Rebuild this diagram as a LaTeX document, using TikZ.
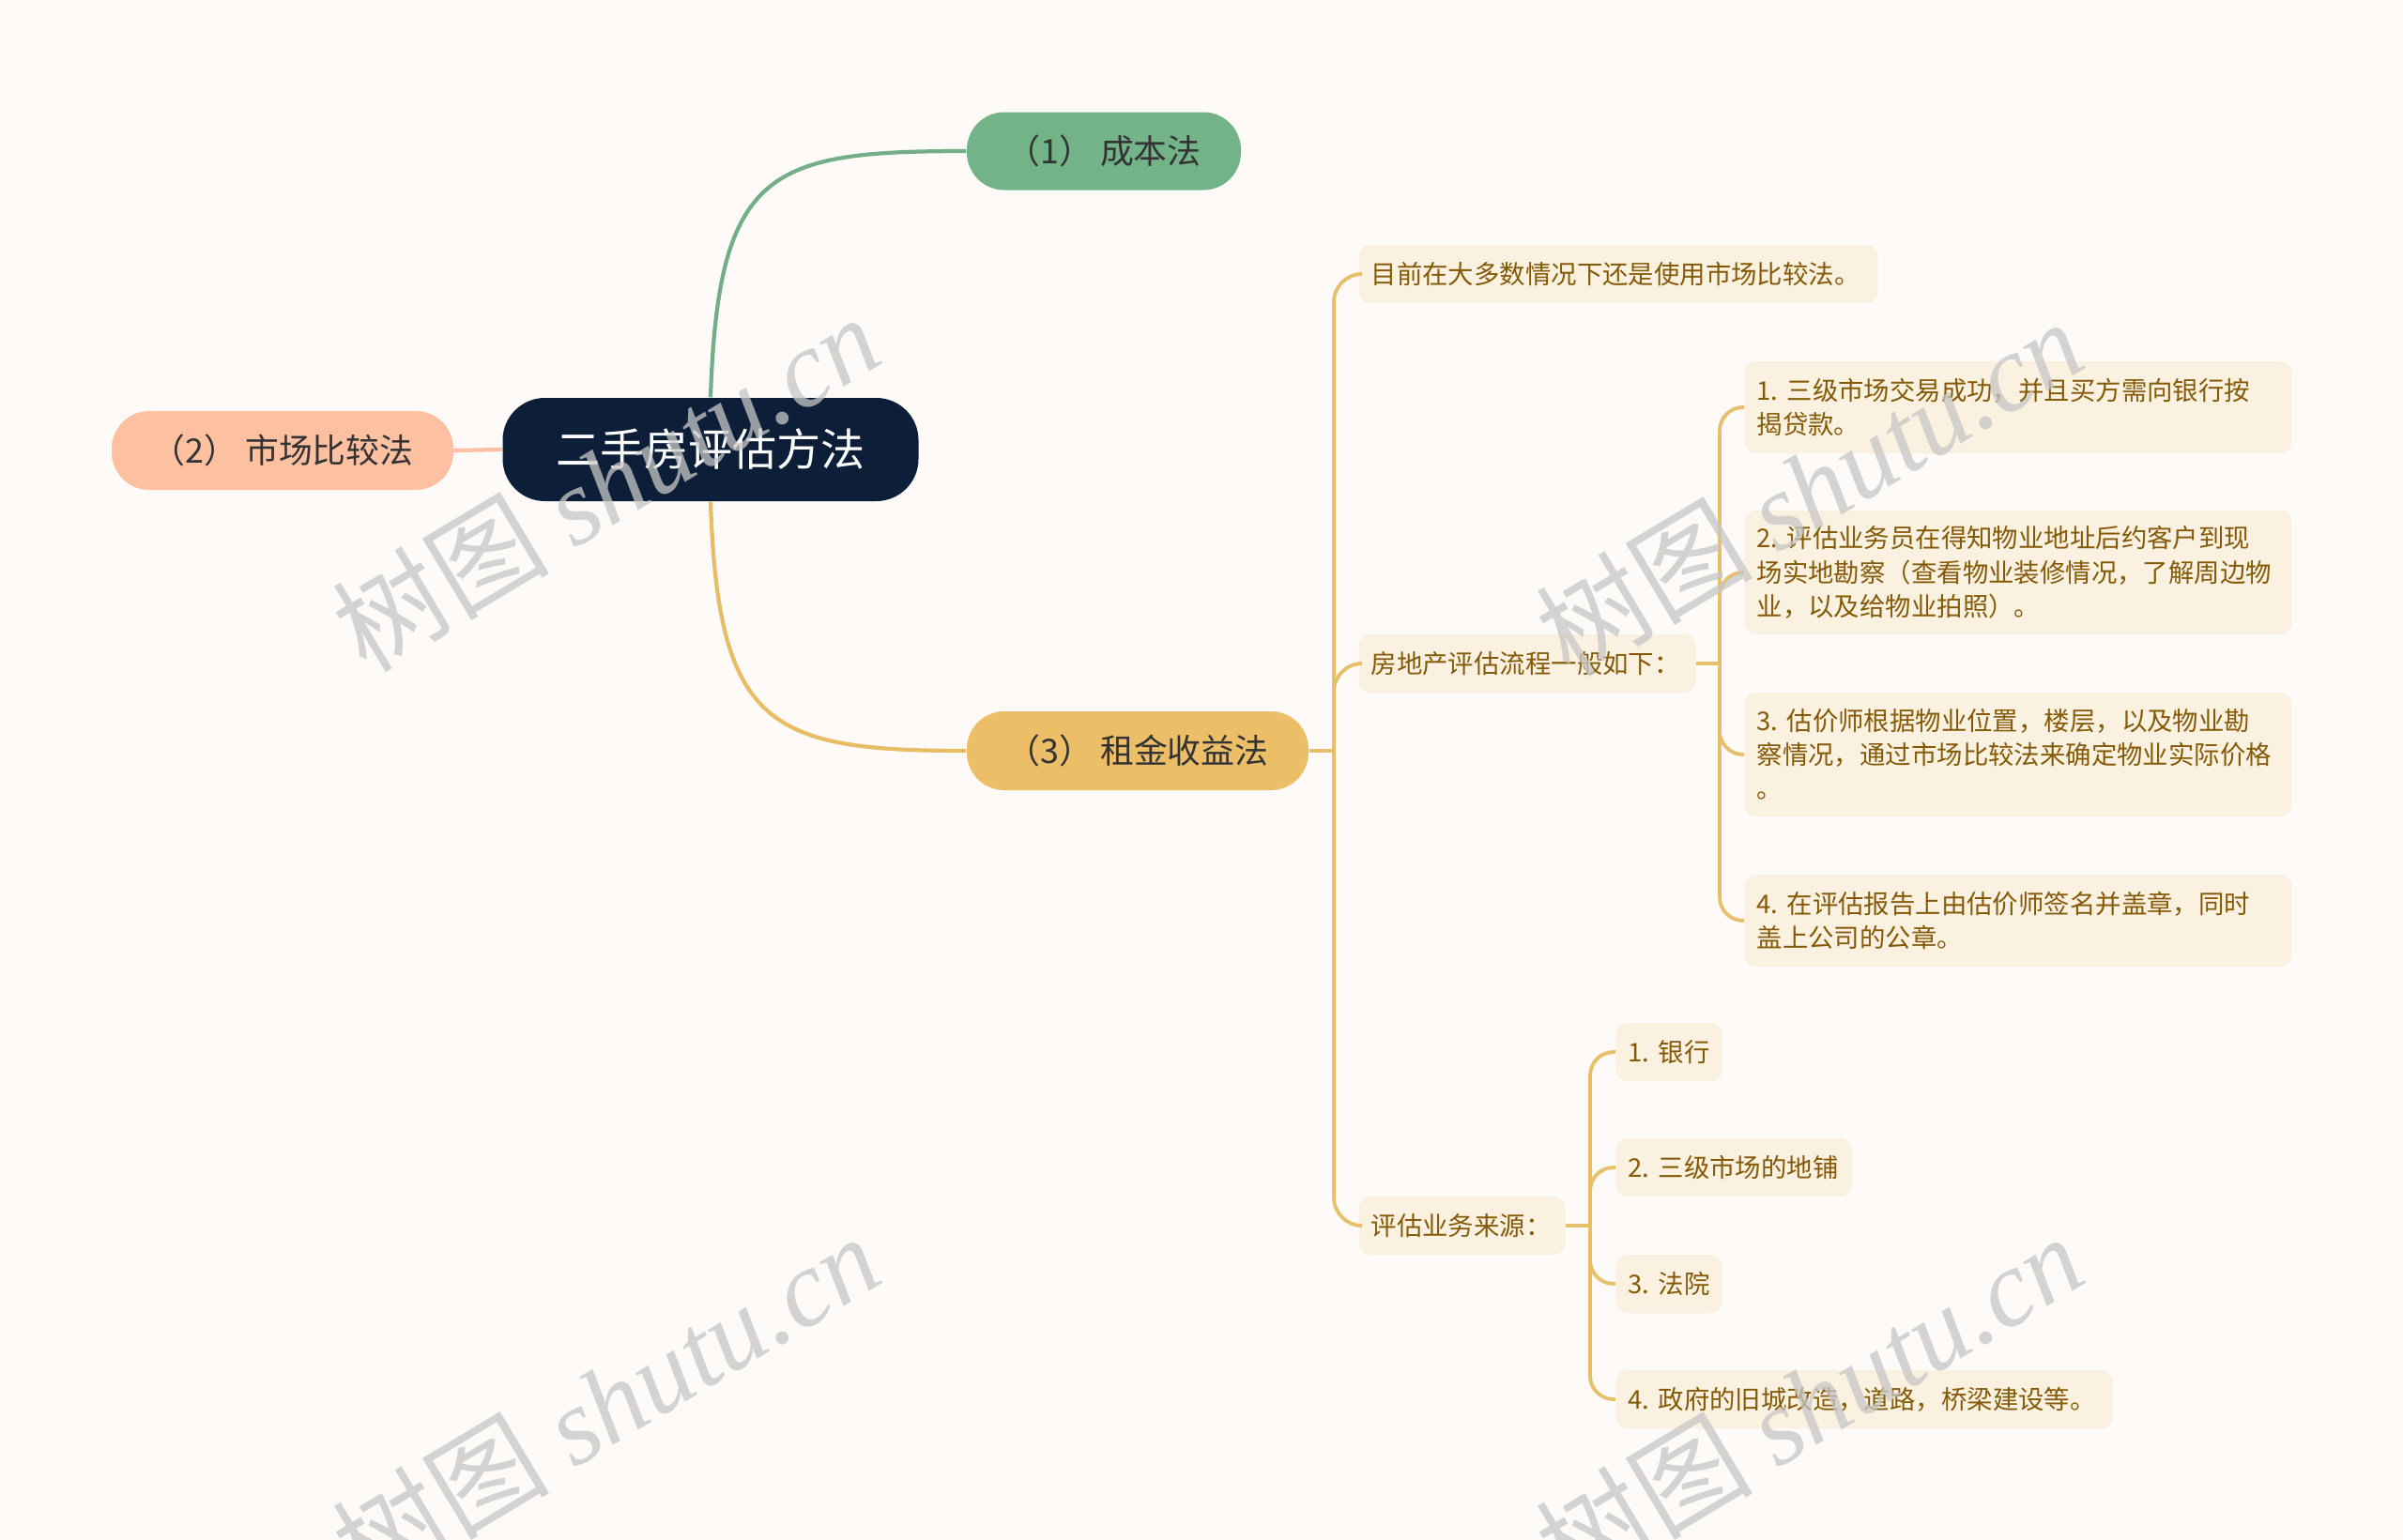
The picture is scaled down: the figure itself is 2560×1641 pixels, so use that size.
\documentclass[tikz,border=0pt]{standalone}
\usepackage{fontspec}
\setmainfont{Noto Sans CJK SC}
\newfontfamily\wmlat{Liberation Serif}
\definecolor{bg}{HTML}{FDFAF8}
\definecolor{navy}{HTML}{0D1F38}
\definecolor{gfill}{HTML}{73B388}
\definecolor{gedge}{HTML}{73AE88}
\definecolor{pfill}{HTML}{FDC0A0}
\definecolor{pedge}{HTML}{FBC0A3}
\definecolor{yfill}{HTML}{EDBE68}
\definecolor{yedge}{HTML}{E9BD66}
\definecolor{leaffill}{HTML}{FBF1E1}
\definecolor{leaftext}{HTML}{845A07}
\definecolor{darktext}{HTML}{333333}
\definecolor{leafedge}{HTML}{E8BF6B}
\begin{document}
\begin{tikzpicture}[x=0.1mm,y=-0.1mm,
  rootbox/.style={fill=navy, rounded corners=4.5mm, minimum width=44.3mm, minimum height=11mm,
    text=white, font=\fontsize{13.4}{16}\selectfont, inner sep=0pt},
  mainbox/.style={rounded corners=4mm, minimum width=36.4mm, minimum height=8.4mm,
    text=darktext, font=\fontsize{10.2}{12}\selectfont, inner sep=0pt},
  leaf/.style={fill=leaffill, rounded corners=1.2mm, text=leaftext,
    font=\fontsize{7.8}{10.3}\selectfont, align=left, inner xsep=1.3mm, inner ysep=0pt, anchor=west},
  mainedge/.style={line width=1.2pt},
  leafedge/.style={draw=leafedge, line width=1.1pt},
  wm/.style={rotate=31, text=black!22, opacity=0.75, font=\fontsize{33}{36}\selectfont}
]
\useasboundingbox (0,0) rectangle (2560,1641);
\fill[bg] (0,0) rectangle (2560,1641);

% main nodes
\node[rootbox] (root) at (757,479) {二手房评估方法};
\node[mainbox, fill=gfill, minimum width=29.2mm, minimum height=8.3mm] (n1) at (1176,161) {（1） 成本法};
\node[mainbox, fill=pfill] (n2) at (301,480) {（2） 市场比较法};
\node[mainbox, fill=yfill] (n3) at (1212,800) {（3） 租金收益法};

% level 2
\node[leaf, text width=52.7mm, minimum height=6.2mm] (A) at (1447,292) {目前在大多数情况下还是使用市场比较法。};
\node[leaf, text width=33.3mm, minimum height=6.2mm] (B) at (1447,707) {房地产评估流程一般如下：};
\node[leaf, text width=19.4mm, minimum height=6.2mm] (C) at (1447,1306) {评估业务来源：};

% level 3 under B
\node[leaf, text width=55.7mm, minimum height=9.8mm] (B1) at (1858,434)
  {1.~三级市场交易成功，并且买方需向银行按\\揭贷款。};
\node[leaf, text width=55.7mm, minimum height=13.2mm] (B2) at (1858,610)
  {2.~评估业务员在得知物业地址后约客户到现\\场实地勘察（查看物业装修情况，了解周边物\\业，以及给物业拍照）。};
\node[leaf, text width=55.7mm, minimum height=13.2mm] (B3) at (1858,804)
  {3.~估价师根据物业位置，楼层，以及物业勘\\察情况，通过市场比较法来确定物业实际价格\\。};
\node[leaf, text width=55.7mm, minimum height=9.8mm] (B4) at (1858,981)
  {4.~在评估报告上由估价师签名并盖章，同时\\盖上公司的公章。};

% level 3 under C
\node[leaf, text width=8.7mm, minimum height=6.2mm] (C1) at (1721,1121) {1.~银行};
\node[leaf, text width=22.5mm, minimum height=6.2mm] (C2) at (1721,1244) {2.~三级市场的地铺};
\node[leaf, text width=8.7mm, minimum height=6.2mm] (C3) at (1721,1368) {3.~法院};
\node[leaf, text width=50.3mm, minimum height=6.2mm] (C4) at (1721,1491) {4.~政府的旧城改造，道路，桥梁建设等。};

% main edges
\draw[mainedge, draw=gedge] (root.north) .. controls (765,180) and (820,161) .. (n1.west);
\draw[mainedge, draw=yedge] (root.south) .. controls (765,775) and (820,800) .. (n3.west);
\draw[mainedge, draw=pedge] (n2.east) -- (root.west);

% edges from n3
\coordinate (s3) at (1421,800);
\draw[leafedge] (n3.east) -- (s3);
\draw[leafedge, rounded corners=3mm] (s3) |- (A.west);
\draw[leafedge, rounded corners=3mm] (s3) |- (B.west);
\draw[leafedge, rounded corners=3mm] (s3) |- (C.west);

% edges from B
\coordinate (sB) at (1832,707);
\draw[leafedge] (B.east) -- (sB);
\draw[leafedge, rounded corners=2.5mm] (sB) |- (B1.west);
\draw[leafedge, rounded corners=2.5mm] (sB) |- (B2.west);
\draw[leafedge, rounded corners=2.5mm] (sB) |- (B3.west);
\draw[leafedge, rounded corners=2.5mm] (sB) |- (B4.west);

% edges from C
\coordinate (sC) at (1694,1306);
\draw[leafedge] (C.east) -- (sC);
\draw[leafedge, rounded corners=2.5mm] (sC) |- (C1.west);
\draw[leafedge, rounded corners=2.5mm] (sC) |- (C2.west);
\draw[leafedge, rounded corners=2.5mm] (sC) |- (C3.west);
\draw[leafedge, rounded corners=2.5mm] (sC) |- (C4.west);

% watermarks
\node[wm] (w1) at (645,514) {树图 {\wmlat\itshape shutu.cn}};
\node[wm] (w2) at (1927,519) {树图 {\wmlat\itshape shutu.cn}};
\node[wm] (w3) at (645,1494) {树图 {\wmlat\itshape shutu.cn}};
\node[wm] (w4) at (1927,1494) {树图 {\wmlat\itshape shutu.cn}};
\end{tikzpicture}
\end{document}
